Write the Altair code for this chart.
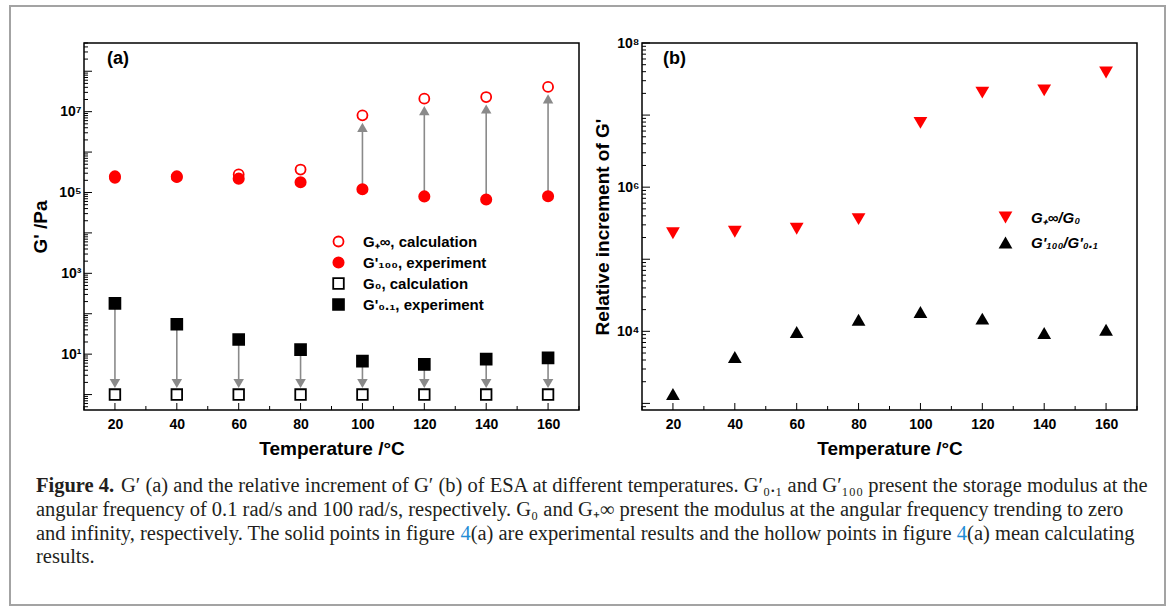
import altair as alt
import pandas as pd

# ---------------- data ----------------
temps = [20, 40, 60, 80, 100, 120, 140, 160]

# panel (a): G' / Pa
g_inf_calc = [2.3e5, 2.4e5, 2.8e5, 3.7e5, 8.1e6, 2.1e7, 2.3e7, 4.1e7]
g100_exp = [2.5e5, 2.5e5, 2.2e5, 1.8e5, 1.2e5, 8.0e4, 6.7e4, 8.1e4]
g0_calc = [1.0, 1.0, 1.0, 1.0, 1.0, 1.0, 1.0, 1.0]
g01_exp = [180, 55, 23, 13, 6.7, 5.6, 7.5, 8.1]
up_arrow_temps = [100, 120, 140, 160]

# panel (b): relative increment of G'
ratio_inf_g0 = [2.3e5, 2.4e5, 2.65e5, 3.6e5, 7.8e6, 2.05e7, 2.2e7, 3.9e7]
ratio_100_01 = [1350, 4400, 9800, 14500, 18500, 15000, 9500, 10500]

names_a = ["G\u208a\u221e, calculation", "G'\u2081\u2080\u2080, experiment",
           "G\u2080, calculation", "G'\u2080.\u2081, experiment"]
names_b = ["G\u208a\u221e/G\u2080", "G'\u2081\u2080\u2080/G'\u2080.\u2081"]

x_tick_values = [20, 40, 60, 80, 100, 120, 140, 160]
x_minor_values = [10, 30, 50, 70, 90, 110, 130, 150, 170]
ya_label_values = [10, 1e3, 1e5, 1e7]
yb_label_values = [1e4, 1e6, 1e8]

caption_bold = "Figure 4."
caption_lines = [
    "G\u2032 (a) and the relative increment of G\u2032 (b) of ESA at different temperatures. G\u2032\u2080.\u2081 and G\u2032\u2081\u2080\u2080 present the storage modulus at the",
    "angular frequency of 0.1 rad/s and 100 rad/s, respectively. G\u2080 and G\u208a\u221e present the modulus at the angular frequency trending to zero",
    None,  # third line is built from segments (blue figure links)
    "results.",
]
line3_segments = [
    ("and infinity, respectively. The solid points in figure ", "#231f20"),
    ("4", "#1f8dd6"),
    ("(a) are experimental results and the hollow points in figure ", "#231f20"),
    ("4", "#1f8dd6"),
    ("(a) mean calculating", "#231f20"),
]

# ---------------- layout constants ----------------
W, H = 495, 367
RED = "#ff0000"
GRAY = "#8a8a8a"
SANS = "Liberation Sans"
SERIF = "Liberation Serif"

SUP = "['\u2070','\u00b9','\u00b2','\u00b3','\u2074','\u2075','\u2076','\u2077','\u2078','\u2079']"
label_expr = "'10' + " + SUP + "[round(log(datum.value)/LN10)]"

one = alt.Data(values=[{"k": 1}])

x_scale = alt.Scale(domain=[10, 170], nice=False, zero=False)
ya_scale = alt.Scale(type="log", domain=[0.415, 5.0e8], nice=False)
yb_scale = alt.Scale(type="log", domain=[810, 1.0e8], nice=False)

ax_x = alt.Axis(values=x_tick_values, title="Temperature /\u00b0C", format="d", ticks=False,
                domain=False, grid=False, labelPadding=7, titlePadding=8)
ax_ya = alt.Axis(values=ya_label_values, labelExpr=label_expr, title="G' /Pa", ticks=False,
                 domain=False, grid=False, labelPadding=3, titlePadding=8)
ax_yb = alt.Axis(values=yb_label_values, labelExpr=label_expr, title="Relative increment of G'",
                 ticks=False, domain=False, grid=False, labelPadding=3, titlePadding=4)


def X(field):
    return alt.X(field, type="quantitative", scale=x_scale, axis=ax_x)


def YA(field):
    return alt.Y(field, type="quantitative", scale=ya_scale, axis=ax_ya)


def YB(field):
    return alt.Y(field, type="quantitative", scale=yb_scale, axis=ax_yb)


def log_ticks(lo, hi):
    major, minor = [], []
    for e in range(-2, 10):
        for m in range(1, 10):
            v = m * 10.0 ** e
            if lo <= v <= hi:
                (major if m == 1 else minor).append(v)
    return major, minor


def tick_layers(Yf, lo, hi):
    major, minor = log_ticks(lo, hi)
    return [
        alt.Chart(pd.DataFrame({"v": major})).mark_rule(color="black", strokeWidth=1).encode(
            y=Yf("v"), x=alt.value(0), x2=alt.value(8)),
        alt.Chart(pd.DataFrame({"v": minor})).mark_rule(color="black", strokeWidth=1).encode(
            y=Yf("v"), x=alt.value(0), x2=alt.value(4)),
        alt.Chart(pd.DataFrame({"T": x_tick_values})).mark_rule(color="black", strokeWidth=1).encode(
            x=X("T"), y=alt.value(H), y2=alt.value(H - 7)),
        alt.Chart(pd.DataFrame({"T": x_minor_values})).mark_rule(color="black", strokeWidth=1).encode(
            x=X("T"), y=alt.value(H), y2=alt.value(H - 4)),
    ]


# Times / Liberation Serif advance widths (1/1000 em) to lay caption segments side by side
TIMES_W = {" ": 250, ",": 250, ".": 250, "(": 333, ")": 333, "4": 500, "T": 611,
           "a": 444, "b": 500, "c": 444, "d": 500, "e": 444, "f": 333, "g": 500, "h": 500,
           "i": 278, "j": 278, "k": 500, "l": 278, "m": 778, "n": 500, "o": 500, "p": 500,
           "q": 500, "r": 333, "s": 389, "t": 278, "u": 500, "v": 500, "w": 722, "x": 500,
           "y": 500, "z": 444}
KERN = {("y", ","): -65, ("y", "."): -65}


def text_width(s, size):
    total = 0
    for i, ch in enumerate(s):
        total += TIMES_W.get(ch, 500)
        if i + 1 < len(s):
            total += KERN.get((ch, s[i + 1]), 0)
    return total * size / 1000.0


# ---------------- panel (a) ----------------
rows = []
for name, vals in [(names_a[0], g_inf_calc), (names_a[2], g0_calc),
                   (names_a[1], g100_exp), (names_a[3], g01_exp)]:
    for t, v in zip(temps, vals):
        rows.append({"T": t, "v": v, "series": name})
df_a = pd.DataFrame(rows)

down = pd.DataFrame({"T": temps, "src": g01_exp, "dst": g0_calc})
up = pd.DataFrame([{"T": t, "src": s, "dst": d}
                   for t, s, d in zip(temps, g100_exp, g_inf_calc) if t in up_arrow_temps])

legend_a = alt.Legend(title=None, orient="none", legendX=247, legendY=191, labelFont=SANS,
                      labelFontSize=15, labelFontWeight="bold", labelColor="black",
                      symbolSize=100, symbolStrokeWidth=1.8, rowPadding=2, labelOffset=17,
                      padding=0)

points_a = alt.Chart(df_a).mark_point(opacity=1, strokeWidth=1.8).encode(
    x=X("T"), y=YA("v"),
    color=alt.Color("series:N", scale=alt.Scale(domain=names_a, range=[RED, RED, "black", "black"]),
                    legend=legend_a),
    fill=alt.Fill("series:N", scale=alt.Scale(domain=names_a, range=["white", RED, "white", "black"]),
                  legend=legend_a),
    shape=alt.Shape("series:N", scale=alt.Scale(domain=names_a, range=["circle", "circle", "square", "square"]),
                    legend=legend_a),
    size=alt.Size("series:N", scale=alt.Scale(domain=names_a, range=[100, 118, 64, 80]), legend=None),
)

down_rule = alt.Chart(down).mark_rule(color=GRAY, strokeWidth=1.6, y2Offset=-11).encode(
    x=X("T"), y=YA("src"), y2="dst:Q")
down_head = alt.Chart(down).mark_point(shape="triangle-down", filled=True, color=GRAY, opacity=1,
                                       size=110, yOffset=-11).encode(x=X("T"), y=YA("dst"))
up_rule = alt.Chart(up).mark_rule(color=GRAY, strokeWidth=1.6, y2Offset=12).encode(
    x=X("T"), y=YA("src"), y2="dst:Q")
up_head = alt.Chart(up).mark_point(shape="triangle-up", filled=True, color=GRAY, opacity=1,
                                   size=110, yOffset=12).encode(x=X("T"), y=YA("dst"))

label_a = alt.Chart(one).mark_text(align="left", baseline="middle", fontSize=18, fontWeight="bold",
                                   font=SANS, color="black").encode(
    x=alt.value(23), y=alt.value(16), text=alt.value("(a)"))

border = alt.Chart(one).mark_rect(filled=False, color="#a3a3a3", strokeWidth=2).encode(
    x=alt.value(-74), x2=alt.value(1081), y=alt.value(-37), y2=alt.value(562))

CAP_X = -48
CAP_Y0 = 443
CAP_DY = 23.8
CAP_SIZE = 20.5


def cap_text(txt, x, y, color="#231f20", bold=False):
    kw = dict(align="left", baseline="middle", fontSize=CAP_SIZE, font=SERIF, color=color)
    if bold:
        kw["fontWeight"] = "bold"
    return alt.Chart(one).mark_text(**kw).encode(x=alt.value(x), y=alt.value(y), text=alt.value(txt))


caption_layers = [cap_text(caption_bold, CAP_X, CAP_Y0, bold=True)]
for i, line in enumerate(caption_lines):
    y = CAP_Y0 + i * CAP_DY
    if line is None:
        cx = CAP_X
        for seg, col in line3_segments:
            caption_layers.append(cap_text(seg, cx, y, color=col))
            cx += text_width(seg, CAP_SIZE)
    else:
        caption_layers.append(cap_text(line, CAP_X + (85 if i == 0 else 0), y))

panel_a = alt.layer(
    border, *tick_layers(YA, 0.415, 5.0e8), down_rule, up_rule, down_head, up_head,
    points_a, label_a, *caption_layers
).properties(width=W, height=H)

# ---------------- panel (b) ----------------
rows_b = []
for name, vals in [(names_b[0], ratio_inf_g0), (names_b[1], ratio_100_01)]:
    for t, v in zip(temps, vals):
        rows_b.append({"T": t, "r": v, "series_b": name})
df_b = pd.DataFrame(rows_b)

legend_b = alt.Legend(title=None, orient="none", legendX=356, legendY=167, labelFont=SANS,
                      labelFontSize=15, labelFontWeight="bold", labelFontStyle="italic",
                      labelColor="black", symbolSize=190, symbolStrokeWidth=0, rowPadding=9,
                      labelOffset=18, padding=0)

points_b = alt.Chart(df_b).mark_point(filled=True, opacity=1, size=190).encode(
    x=X("T"), y=YB("r"),
    color=alt.Color("series_b:N", scale=alt.Scale(domain=names_b, range=[RED, "black"]), legend=legend_b),
    shape=alt.Shape("series_b:N", scale=alt.Scale(domain=names_b, range=["triangle-down", "triangle-up"]),
                    legend=legend_b),
)

label_b = alt.Chart(one).mark_text(align="left", baseline="middle", fontSize=18, fontWeight="bold",
                                   font=SANS, color="black").encode(
    x=alt.value(21), y=alt.value(16), text=alt.value("(b)"))

panel_b = alt.layer(*tick_layers(YB, 810, 1.0e8), points_b, label_b).properties(width=W, height=H)

chart = alt.hconcat(panel_a, panel_b, spacing=63, bounds="flush").resolve_scale(
    color="independent", shape="independent", fill="independent", size="independent"
).properties(
    padding={"left": 8, "top": 4, "right": 0, "bottom": 0}, background="white"
).configure_view(
    stroke="black", strokeWidth=1.5
).configure_axis(
    labelFont=SANS, labelFontSize=14, labelFontWeight="bold", labelColor="black",
    titleFont=SANS, titleFontSize=19, titleFontWeight="bold", titleColor="black"
)

chart.save("out.html", embed_options={"renderer": "svg", "actions": False})
